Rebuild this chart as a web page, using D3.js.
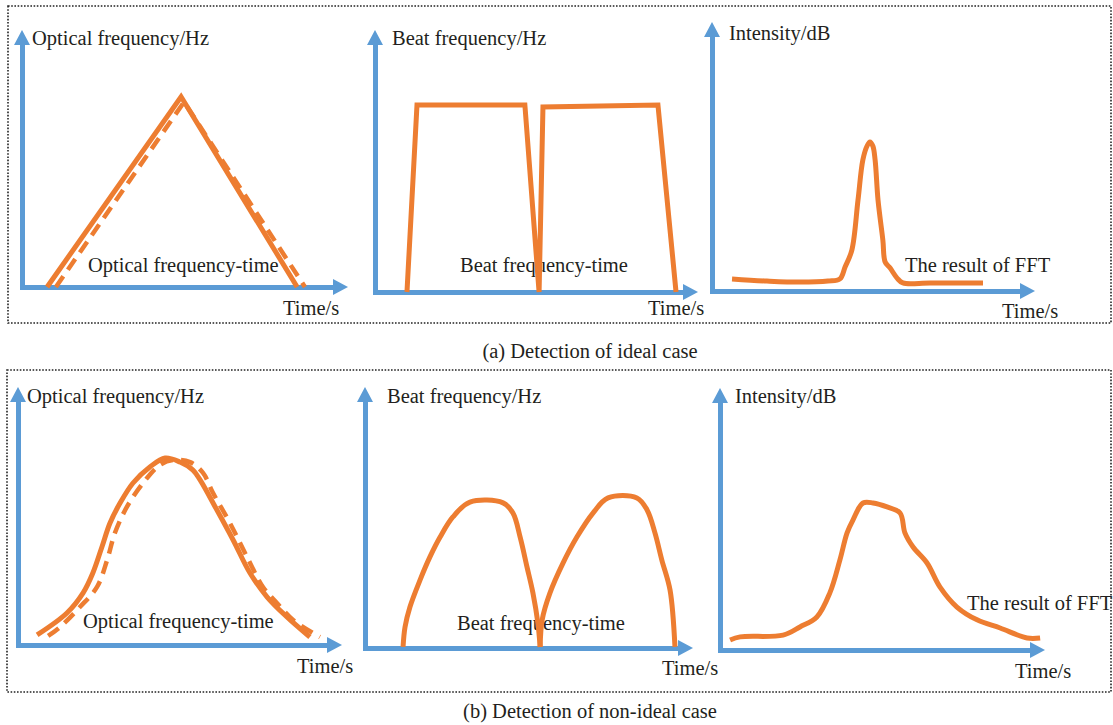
<!DOCTYPE html>
<html>
<head>
<meta charset="utf-8">
<script src="https://cdn.jsdelivr.net/npm/d3@7"></script>
<style>
  html, body { margin: 0; padding: 0; background: #fff; }
  svg { display: block; }
  text { font-family: "Liberation Serif", "Times New Roman", serif; fill: #231f20; }
</style>
</head>
<body>
<svg id="chart" width="1113" height="725"></svg>
<script>
// ---------- DATA (normalised units: time 0-100 along x axis, value 0-100 along y axis) ----------
const idealOpticalSolid  = [[7.7, 0], [48.8, 74], [84.4, 0]];
const idealOpticalDashed = [[10.4, 0], [49.7, 72], [86.8, 0]];

const idealBeat = [[9.9, 0], [13.0, 71.4], [46.4, 71.4], [50.8, 0], [52.0, 70.6], [87.6, 71.4], [93.2, 0]];

const idealFFT = [[6.2, 4.5], [17.0, 3.7], [27.2, 3.3], [35.9, 3.7], [39.6, 4.5], [41.2, 8.9], [43.3, 15.2],
  [45.2, 33.8], [46.7, 48.7], [48.0, 53.9], [48.9, 55.4], [49.8, 53.9], [50.5, 48.7], [51.4, 33.8],
  [52.9, 18.9], [53.6, 10.8], [55.1, 8.6], [57.3, 4.8], [59.1, 3.0], [67.5, 3.0], [83.9, 3.0]];

const realOpticalSolid = [[5.9, 3.9], [15.1, 12.4], [20.1, 20.2], [23.1, 27.9], [25.9, 38.0], [28.4, 47.3],
  [31.5, 55.0], [35.5, 62.8], [40.7, 69.0], [45.4, 72.5], [50.0, 70.9], [54.0, 67.8], [56.2, 64.0],
  [61.4, 52.3], [66.4, 40.7], [71.6, 27.9], [76.9, 18.6], [83.0, 10.9], [90.1, 3.1]];
const realOpticalDashed = [[9.3, 3.5], [13.0, 7.0], [19.1, 14.7], [24.4, 22.5], [27.5, 32.9], [29.9, 43.4],
  [33.6, 53.5], [38.6, 62.8], [43.8, 69.8], [47.8, 71.7], [53.1, 70.9], [57.1, 66.7], [60.2, 58.9],
  [65.4, 47.3], [70.7, 34.1], [75.6, 22.5], [79.9, 16.3], [84.9, 9.7], [93.2, 3.1]];

const realBeatFirst = [[11.6, 0.4], [12.2, 8.0], [13.7, 15.7], [16.8, 26.1], [19.8, 34.9], [22.9, 42.5],
  [26.8, 50.2], [32.0, 55.9], [42.1, 55.6], [45.1, 51.7], [47.3, 42.5], [49.4, 31.0], [51.2, 21.1],
  [52.7, 9.6], [53.4, 0.4]];
const realBeatSecond = [[53.4, 0.4], [54.0, 10.7], [56.4, 21.1], [60.4, 32.6], [64.6, 42.5], [69.5, 51.7],
  [74.1, 57.5], [82.9, 57.5], [86.0, 52.9], [88.4, 44.1], [90.5, 33.7], [93.0, 22.2], [94.5, 0.4]];

const realFFT = [[3.1, 3.8], [6.2, 5.0], [19.4, 5.7], [24.6, 8.8], [29.8, 12.6], [33.8, 21.8], [36.9, 34.4],
  [39.1, 44.7], [40.9, 49.6], [44.0, 56.1], [47.1, 56.1], [51.4, 54.6], [55.4, 52.3], [56.9, 44.7],
  [59.4, 39.3], [63.7, 33.2], [67.7, 24.0], [72.9, 16.4], [79.1, 11.5], [86.2, 8.4], [94.5, 4.6], [98.5, 4.6]];

const yAxisTitles = ["Optical frequency/Hz", "Beat frequency/Hz", "Intensity/dB"];
const curveTitles = ["Optical frequency-time", "Beat frequency-time", "The result of FFT"];
const xAxisTitle = "Time/s";
const captions = ["(a) Detection of ideal case", "(b) Detection of non-ideal case"];

// ---------- LAYOUT ----------
const svg = d3.select("#chart");
const BLUE = "#5b9bd5", ORANGE = "#ed7d31";

const boxes = [
  { x: 8, y: 6, w: 1103, h: 317, capY: 358 },
  { x: 7, y: 370, w: 1104, h: 322, capY: 718 }
];

const panels = [
  { x0: 22, xTip: 348, y0: 287, yTop: 30, yT: [32, 45], mT: [88, 272], xT: [283, 315],
    series: [{ d: idealOpticalSolid, dash: false, smooth: false }, { d: idealOpticalDashed, dash: true, smooth: false }], k: 0 },
  { x0: 375, xTip: 698, y0: 292, yTop: 30, yT: [392, 45], mT: [460, 272], xT: [648, 315],
    series: [{ d: idealBeat, dash: false, smooth: false }], k: 1 },
  { x0: 712, xTip: 1035, y0: 291, yTop: 22, yT: [729, 40], mT: [905, 272], xT: [1002, 318],
    series: [{ d: idealFFT, dash: false, smooth: true }], k: 2 },
  { x0: 18, xTip: 342, y0: 645, yTop: 387, yT: [27, 403], mT: [83, 628], xT: [297, 673],
    series: [{ d: realOpticalSolid, dash: false, smooth: true }, { d: realOpticalDashed, dash: true, smooth: true }], k: 0 },
  { x0: 365, xTip: 693, y0: 648, yTop: 387, yT: [387, 403], mT: [457, 630], xT: [662, 675],
    series: [{ d: realBeatFirst, dash: false, smooth: true }, { d: realBeatSecond, dash: false, smooth: true }], k: 1 },
  { x0: 720, xTip: 1045, y0: 650, yTop: 388, yT: [735, 403], mT: [967, 610], xT: [1015, 678],
    series: [{ d: realFFT, dash: false, smooth: true }], k: 2 }
];

// dotted frames + captions
boxes.forEach((b, i) => {
  svg.append("rect").attr("x", b.x).attr("y", b.y).attr("width", b.w).attr("height", b.h)
    .attr("fill", "none").attr("stroke", "#222").attr("stroke-width", 1.6).attr("stroke-dasharray", "1.6,1.6");
  svg.append("text").attr("x", 590).attr("y", b.capY).attr("text-anchor", "middle")
    .attr("font-size", 20.5).text(captions[i]);
});

const AH = 15, AW = 8; // arrowhead length and half width
const FS = 20.5;

panels.forEach(p => {
  const g = svg.append("g");
  const x = d3.scaleLinear().domain([0, 100]).range([p.x0, p.xTip]);
  const y = d3.scaleLinear().domain([0, 100]).range([p.y0, p.yTop]);

  // axes (library axes, no ticks), trimmed so the arrowheads finish them
  const xAxisScale = d3.scaleLinear().domain([0, 100]).range([p.x0 - 2.5, p.xTip - AH + 2]);
  const yAxisScale = d3.scaleLinear().domain([0, 100]).range([p.y0 + 2.5, p.yTop + AH - 2]);
  const gx = g.append("g").attr("transform", `translate(0,${p.y0})`)
    .call(d3.axisBottom(xAxisScale).tickValues([]).tickSizeOuter(0));
  const gy = g.append("g").attr("transform", `translate(${p.x0},0)`)
    .call(d3.axisLeft(yAxisScale).tickValues([]).tickSizeOuter(0));
  [gx, gy].forEach(a => a.select(".domain").attr("stroke", BLUE).attr("stroke-width", 5));

  g.append("path").attr("fill", BLUE)
    .attr("d", `M${x(100)},${p.y0} L${x(100) - AH},${p.y0 - AW} L${x(100) - AH},${p.y0 + AW} Z`);
  g.append("path").attr("fill", BLUE)
    .attr("d", `M${p.x0},${y(100)} L${p.x0 - AW},${y(100) + AH} L${p.x0 + AW},${y(100) + AH} Z`);

  // titles
  g.append("text").attr("x", p.yT[0]).attr("y", p.yT[1]).attr("font-size", FS).text(yAxisTitles[p.k]);
  g.append("text").attr("x", p.mT[0]).attr("y", p.mT[1]).attr("font-size", FS).text(curveTitles[p.k]);
  g.append("text").attr("x", p.xT[0]).attr("y", p.xT[1]).attr("font-size", FS).text(xAxisTitle);

  // curves
  p.series.forEach(s => {
    const line = d3.line().x(d => x(d[0])).y(d => y(d[1]))
      .curve(s.smooth ? d3.curveCatmullRom.alpha(0.5) : d3.curveLinear);
    g.append("path").attr("d", line(s.d)).attr("fill", "none").attr("stroke", ORANGE)
      .attr("stroke-width", s.dash ? 4.5 : 5)
      .attr("stroke-linejoin", s.smooth ? "round" : "miter")
      .attr("stroke-dasharray", s.dash ? "13,8" : null);
  });
});
</script>
</body>
</html>
